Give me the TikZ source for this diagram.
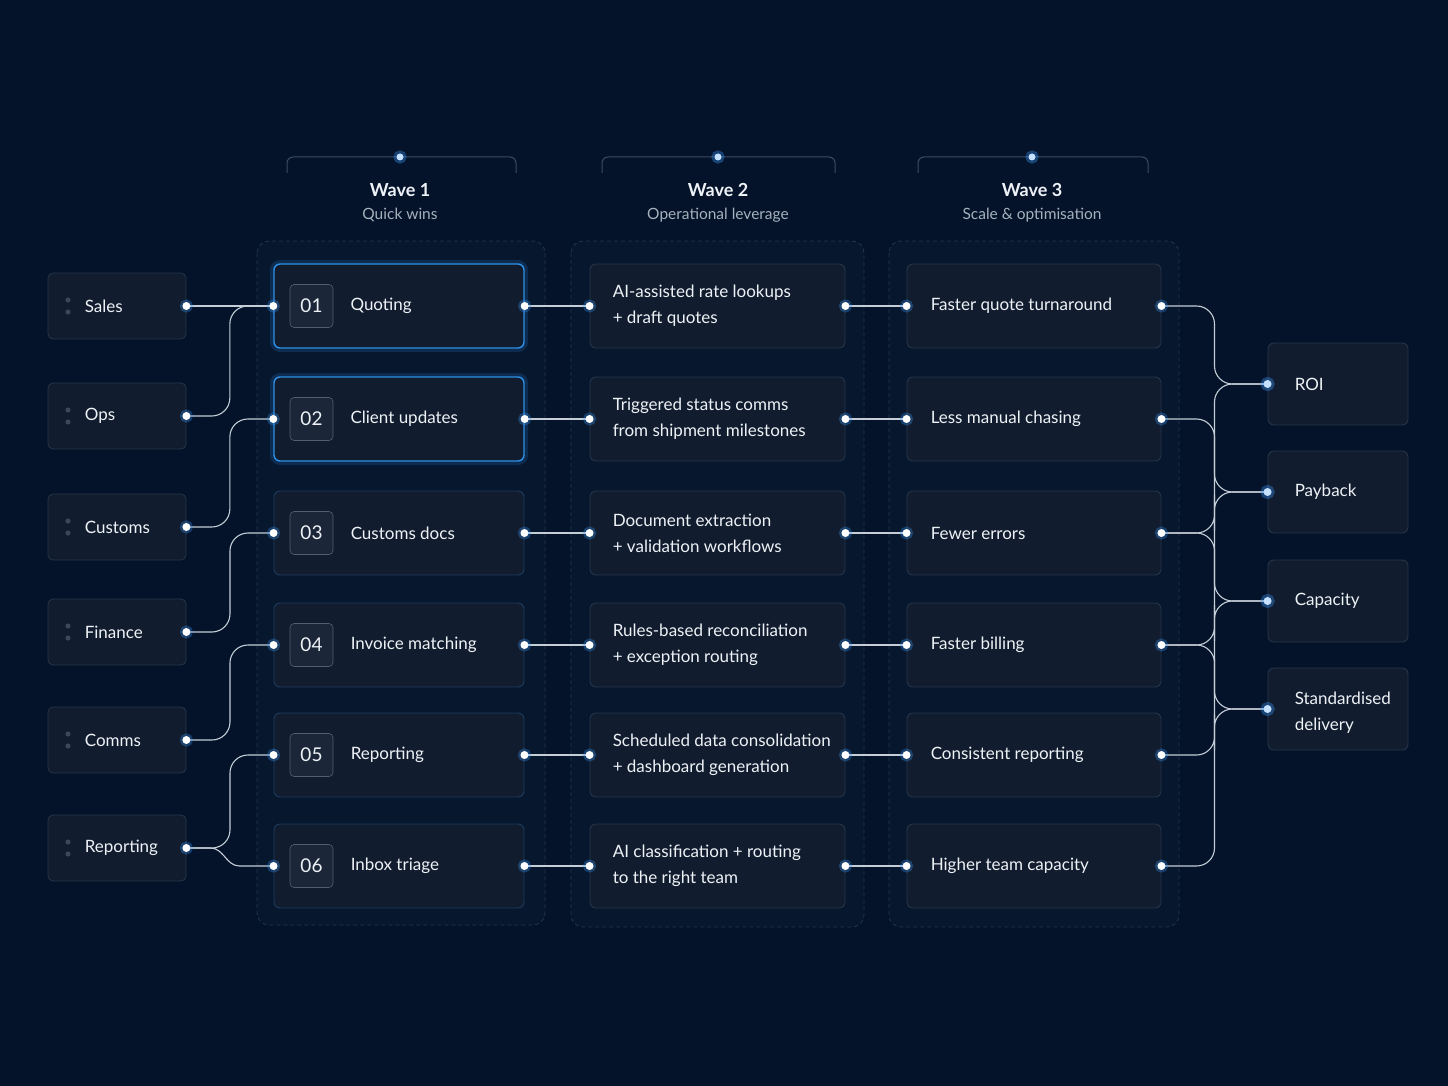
\documentclass[tikz,border=0pt]{standalone}
\usepackage{fontspec}
\setmainfont{Lato}
\usetikzlibrary{calc}

\definecolor{bgnavy}{HTML}{04132A}
\definecolor{lanefill}{HTML}{06172E}
\definecolor{lanegrey}{HTML}{26364C}
\definecolor{boxfill}{HTML}{111D2E}
\definecolor{boxline}{HTML}{27354A}
\definecolor{numfill}{HTML}{1B2739}
\definecolor{hotblue}{HTML}{2E8FE6}
\definecolor{dimblue}{HTML}{1E3A5C}
\definecolor{glowblue}{HTML}{3D9BFF}
\definecolor{textwhite}{HTML}{EEF2F7}
\definecolor{subgrey}{HTML}{A7B1BD}
\definecolor{wiregrey}{HTML}{C5CDD7}
\definecolor{handlegrey}{HTML}{3B4757}
\definecolor{bracketgrey}{HTML}{3A4B63}

\begin{document}
\begin{tikzpicture}
        [x=1pt, y=-1pt,
        src/.style={rectangle, rounded corners=5pt, draw=boxline, fill=boxfill, line width=.8pt,
            minimum width=138pt, minimum height=66pt, inner sep=0pt,
            path picture={\fill[handlegrey] ($(path picture bounding box.west)+(20,-6)$) circle (2.6pt)
                ($(path picture bounding box.west)+(20,6)$) circle (2.6pt);}},
        step1/.style={rectangle, rounded corners=6pt, draw=dimblue, fill=boxfill, line width=.9pt,
            minimum width=250pt, minimum height=84pt, inner sep=0pt},
        hot/.style={draw=hotblue, line width=1.4pt,
            preaction={draw=glowblue, line width=8pt, draw opacity=.16}},
        step2/.style={rectangle, rounded corners=6pt, draw=boxline, fill=boxfill, line width=.9pt,
            minimum width=255pt, minimum height=84pt, inner sep=0pt},
        step3/.style={step2, minimum width=254pt},
        result/.style={rectangle, rounded corners=6pt, draw=boxline, fill=boxfill, line width=.9pt,
            minimum width=140pt, minimum height=82pt, inner sep=0pt},
        numbox/.style={rectangle, rounded corners=4pt, fill=numfill, draw=boxline!80, line width=.6pt,
            minimum size=43pt, inner sep=0pt, text=textwhite, font=\fontsize{19}{21}\selectfont},
        lbl/.style={anchor=west, inner sep=0pt, align=left, text=textwhite,
            font=\fontsize{17}{26}\selectfont},
        head/.style={text=textwhite, font=\bfseries\fontsize{18}{21}\selectfont, inner sep=0pt},
        sub/.style={text=subgrey, font=\fontsize{15.5}{18}\selectfont, inner sep=0pt},
        lane/.style={draw=lanegrey, fill=lanefill, dashed, dash pattern=on 4pt off 3pt,
            rounded corners=12pt, line width=.8pt},
        bracket/.style={draw=bracketgrey, line width=1pt, rounded corners=6pt},
        wire/.style={draw=wiregrey, line width=1.1pt, rounded corners=18pt},
        port/.style={fill=white, preaction={draw=glowblue, line width=5pt, draw opacity=.3}},
        hotdot/.style={fill=white!70!glowblue, preaction={draw=glowblue, line width=6pt, draw opacity=.35}}]

        % canvas
        \fill[bgnavy] (0,0) rectangle (1448,1086);

        % wave lanes and headers
        \draw[lane] (257,241) rectangle (545,925);
        \draw[lane] (571,241) rectangle (864,927);
        \draw[lane] (889,241) rectangle (1179,927);

        \draw[bracket] (287,173) |- (516,157) -- (516,173);
        \draw[bracket] (602,173) |- (835,157) -- (835,173);
        \draw[bracket] (918,173) |- (1148,157) -- (1148,173);
        \fill[hotdot] (400,157) circle (3.5pt);
        \fill[hotdot] (718,157) circle (3.5pt);
        \fill[hotdot] (1032,157) circle (3.5pt);

        \node[head] (wave1) at (400,190) {Wave 1};
        \node[sub] (wave1sub) at (400,215) {Quick wins};
        \node[head] (wave2) at (718,190) {Wave 2};
        \node[sub] (wave2sub) at (718,215) {Operational leverage};
        \node[head] (wave3) at (1032,190) {Wave 3};
        \node[sub] (wave3sub) at (1032,215) {Scale \& optimisation};

        % teams
        \node[src, label={[lbl, xshift=37pt]west:Sales}] (sales) at (117,306) {};
        \node[src, label={[lbl, xshift=37pt]west:Ops}] (ops) at (117,416) {};
        \node[src, label={[lbl, xshift=37pt]west:Customs}] (customs) at (117,527) {};
        \node[src, label={[lbl, xshift=37pt]west:Finance}] (finance) at (117,632) {};
        \node[src, label={[lbl, xshift=37pt]west:Comms}] (comms) at (117,740) {};
        \node[src, label={[lbl, xshift=37pt]west:Reporting}] (reportteam) at (117,848) {};

        % wave 1 use cases
        \node[step1, hot, label={[lbl, xshift=77pt]west:Quoting}] (quoting) at (399,306) {};
        \node[step1, hot, label={[lbl, xshift=77pt]west:Client updates}] (updates) at (399,419) {};
        \node[step1, label={[lbl, xshift=77pt]west:Customs docs}] (docs) at (399,533) {};
        \node[step1, label={[lbl, xshift=77pt]west:Invoice matching}] (invoice) at (399,645) {};
        \node[step1, label={[lbl, xshift=77pt]west:Reporting}] (reporting) at (399,755) {};
        \node[step1, label={[lbl, xshift=77pt]west:Inbox triage}] (triage) at (399,866) {};

        \node[numbox] (n01) at (311.5,306) {01};
        \node[numbox] (n02) at (311.5,419) {02};
        \node[numbox] (n03) at (311.5,533) {03};
        \node[numbox] (n04) at (311.5,645) {04};
        \node[numbox] (n05) at (311.5,755) {05};
        \node[numbox] (n06) at (311.5,866) {06};

        % wave 2 mechanisms
        \node[step2, label={[lbl, xshift=23pt]west:{AI-assisted rate lookups\\+ draft quotes}}] (lookups) at (717.5,306) {};
        \node[step2, label={[lbl, xshift=23pt]west:{Triggered status comms\\from shipment milestones}}] (statuscomms) at (717.5,419) {};
        \node[step2, label={[lbl, xshift=23pt]west:{Document extraction\\+ validation workflows}}] (extraction) at (717.5,533) {};
        \node[step2, label={[lbl, xshift=23pt]west:{Rules-based reconciliation\\+ exception routing}}] (reconcile) at (717.5,645) {};
        \node[step2, label={[lbl, xshift=23pt]west:{Scheduled data consolidation\\+ dashboard generation}}] (consolidate) at (717.5,755) {};
        \node[step2, label={[lbl, xshift=23pt]west:{AI classification + routing\\to the right team}}] (classify) at (717.5,866) {};

        % wave 3 effects
        \node[step3, label={[lbl, xshift=24pt]west:Faster quote turnaround}] (fasterquote) at (1034,306) {};
        \node[step3, label={[lbl, xshift=24pt]west:Less manual chasing}] (chasing) at (1034,419) {};
        \node[step3, label={[lbl, xshift=24pt]west:Fewer errors}] (errors) at (1034,533) {};
        \node[step3, label={[lbl, xshift=24pt]west:Faster billing}] (billing) at (1034,645) {};
        \node[step3, label={[lbl, xshift=24pt]west:Consistent reporting}] (consistent) at (1034,755) {};
        \node[step3, label={[lbl, xshift=24pt]west:Higher team capacity}] (teamcap) at (1034,866) {};

        % outcomes
        \node[result, label={[lbl, xshift=27pt]west:ROI}] (roi) at (1338,384) {};
        \node[result, label={[lbl, xshift=27pt]west:Payback}] (payback) at (1338,492) {};
        \node[result, label={[lbl, xshift=27pt]west:Capacity}] (capacity) at (1338,601) {};
        \node[result, label={[lbl, xshift=27pt, yshift=-4pt]west:{Standardised\\delivery}}] (standard) at (1338,709) {};

        % teams to wave 1
        \draw[wire] (sales.east) -- (quoting.west);
        \draw[wire] (ops.east) -| ($(ops.east)!.5!(quoting.west)$) |- (quoting.west);
        \draw[wire] (customs.east) -| ($(customs.east)!.5!(updates.west)$) |- (updates.west);
        \draw[wire] (finance.east) -| ($(finance.east)!.5!(docs.west)$) |- (docs.west);
        \draw[wire] (comms.east) -| ($(comms.east)!.5!(invoice.west)$) |- (invoice.west);
        \draw[wire] (reportteam.east) -| ($(reportteam.east)!.5!(reporting.west)$) |- (reporting.west);
        \draw[wire, sharp corners] (reportteam.east) -- ++(24,0) to[out=0, in=180] ($(triage.west)+(-34,0)$) -- (triage.west);

        % wave 1 to wave 2 to wave 3
        \draw[wire] (quoting.east) -- (lookups.west);
        \draw[wire] (updates.east) -- (statuscomms.west);
        \draw[wire] (docs.east) -- (extraction.west);
        \draw[wire] (invoice.east) -- (reconcile.west);
        \draw[wire] (reporting.east) -- (consolidate.west);
        \draw[wire] (triage.east) -- (classify.west);
        \draw[wire] (lookups.east) -- (fasterquote.west);
        \draw[wire] (statuscomms.east) -- (chasing.west);
        \draw[wire] (extraction.east) -- (errors.west);
        \draw[wire] (reconcile.east) -- (billing.west);
        \draw[wire] (consolidate.east) -- (consistent.west);
        \draw[wire] (classify.east) -- (teamcap.west);

        % wave 3 to outcomes
        \draw[wire] (fasterquote.east) -| ($(fasterquote.east)!.5!(roi.west)$) |- (roi.west);
        \draw[wire] (chasing.east) -| ($(chasing.east)!.5!(payback.west)$) |- (payback.west);
        \draw[wire] (errors.east) -| ($(errors.east)!.5!(payback.west)$) |- (payback.west);
        \draw[wire] (errors.east) -| ($(errors.east)!.5!(capacity.west)$) |- (capacity.west);
        \draw[wire] (billing.east) -| ($(billing.east)!.5!(capacity.west)$) |- (capacity.west);
        \draw[wire] (billing.east) -| ($(billing.east)!.5!(standard.west)$) |- (standard.west);
        \draw[wire] (consistent.east) -| ($(consistent.east)!.5!(standard.west)$) |- (standard.west);
        \draw[wire] (teamcap.east) -| ($(teamcap.east)!.5!(roi.west)$) |- (roi.west);

        % ports
        \fill[port] (sales.east) circle (4pt);
        \fill[port] (ops.east) circle (4pt);
        \fill[port] (customs.east) circle (4pt);
        \fill[port] (finance.east) circle (4pt);
        \fill[port] (comms.east) circle (4pt);
        \fill[port] (reportteam.east) circle (4pt);

        \fill[port] (quoting.west) circle (4pt);
        \fill[port] (updates.west) circle (4pt);
        \fill[port] (docs.west) circle (4pt);
        \fill[port] (invoice.west) circle (4pt);
        \fill[port] (reporting.west) circle (4pt);
        \fill[port] (triage.west) circle (4pt);
        \fill[port] (quoting.east) circle (4pt);
        \fill[port] (updates.east) circle (4pt);
        \fill[port] (docs.east) circle (4pt);
        \fill[port] (invoice.east) circle (4pt);
        \fill[port] (reporting.east) circle (4pt);
        \fill[port] (triage.east) circle (4pt);

        \fill[port] (lookups.west) circle (4pt);
        \fill[port] (statuscomms.west) circle (4pt);
        \fill[port] (extraction.west) circle (4pt);
        \fill[port] (reconcile.west) circle (4pt);
        \fill[port] (consolidate.west) circle (4pt);
        \fill[port] (classify.west) circle (4pt);
        \fill[port] (lookups.east) circle (4pt);
        \fill[port] (statuscomms.east) circle (4pt);
        \fill[port] (extraction.east) circle (4pt);
        \fill[port] (reconcile.east) circle (4pt);
        \fill[port] (consolidate.east) circle (4pt);
        \fill[port] (classify.east) circle (4pt);

        \fill[port] (fasterquote.west) circle (4pt);
        \fill[port] (chasing.west) circle (4pt);
        \fill[port] (errors.west) circle (4pt);
        \fill[port] (billing.west) circle (4pt);
        \fill[port] (consistent.west) circle (4pt);
        \fill[port] (teamcap.west) circle (4pt);
        \fill[port] (fasterquote.east) circle (4pt);
        \fill[port] (chasing.east) circle (4pt);
        \fill[port] (errors.east) circle (4pt);
        \fill[port] (billing.east) circle (4pt);
        \fill[port] (consistent.east) circle (4pt);
        \fill[port] (teamcap.east) circle (4pt);

        \fill[hotdot] (roi.west) circle (4pt);
        \fill[hotdot] (payback.west) circle (4pt);
        \fill[hotdot] (capacity.west) circle (4pt);
        \fill[hotdot] (standard.west) circle (4pt);

    \end{tikzpicture}
\end{document}
